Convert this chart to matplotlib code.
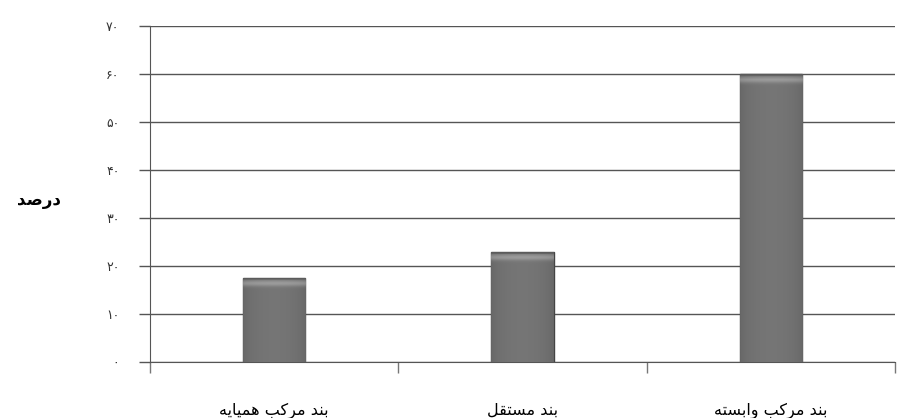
import numpy as np
import matplotlib
matplotlib.use('Agg')
import matplotlib.pyplot as plt

# داده‌ها
categories = ['بند مرکب همپایه', 'بند مستقل', 'بند مرکب وابسته']
values = [17.5, 23, 60]
yticks = [0, 10, 20, 30, 40, 50, 60, 70]
ylabel = 'درصد'

# matplotlib حروف فارسی را به هم نمی‌چسباند، پس شکل‌های نمایشی را دستی می‌سازیم
FORMS = {  # iso, fin, init, med
    'ا': (0xFE8D, 0xFE8E), 'د': (0xFEA9, 0xFEAA), 'ر': (0xFEAD, 0xFEAE),
    'و': (0xFEED, 0xFEEE),
    'ب': (0xFE8F, 0xFE90, 0xFE91, 0xFE92), 'پ': (0xFB56, 0xFB57, 0xFB58, 0xFB59),
    'ت': (0xFE95, 0xFE96, 0xFE97, 0xFE98), 'س': (0xFEB1, 0xFEB2, 0xFEB3, 0xFEB4),
    'ص': (0xFEB9, 0xFEBA, 0xFEBB, 0xFEBC), 'ق': (0xFED5, 0xFED6, 0xFED7, 0xFED8),
    'ک': (0xFB8E, 0xFB8F, 0xFB90, 0xFB91), 'ل': (0xFEDD, 0xFEDE, 0xFEDF, 0xFEE0),
    'م': (0xFEE1, 0xFEE2, 0xFEE3, 0xFEE4), 'ن': (0xFEE5, 0xFEE6, 0xFEE7, 0xFEE8),
    'ه': (0xFEE9, 0xFEEA, 0xFEEB, 0xFEEC), 'ی': (0xFBFC, 0xFBFD, 0xFBFE, 0xFBFF),
}


def shape(text):
    out = []
    for i, ch in enumerate(text):
        if ch not in FORMS:
            out.append(ch)
            continue
        prev = text[i - 1] if i > 0 else ''
        nxt = text[i + 1] if i + 1 < len(text) else ''
        jp = prev in FORMS and len(FORMS[prev]) == 4
        jn = len(FORMS[ch]) == 4 and nxt in FORMS
        f = FORMS[ch]
        if jp and jn:
            out.append(chr(f[3]))
        elif jp:
            out.append(chr(f[1]))
        elif jn:
            out.append(chr(f[2]))
        else:
            out.append(chr(f[0]))
    return ''.join(out)[::-1]


def fa_digits(n):
    return ''.join(chr(0x06F0 + int(d)) for d in str(n))


plt.rcParams['font.family'] = ['DejaVu Sans']

fig = plt.figure(figsize=(9.01, 4.18), dpi=100)
ax = fig.add_axes([0.1665, 0.134, 0.8268, 0.804])

x = np.arange(len(categories))
bars = ax.bar(x, values, width=0.25, color='#6a6a6a', edgecolor='#444444', linewidth=1, zorder=3)

# سایه‌زنی ستون‌ها (لبه‌های تیره، نوار روشن بالا)
u = np.linspace(0, 1, 60)
prof = 0.40 + 0.06 * np.sin(np.pi * u) ** 0.5
for b in bars:
    h = b.get_height()
    ny = 200
    img = np.tile(prof, (ny, 1))
    hpx = h * 4.8  # ارتفاع ستون بر حسب پیکسل
    rows = np.linspace(0, hpx, ny)  # از بالا
    top = np.exp(-((rows - 6) / 3.0) ** 2) * 0.15
    img = img + top[:, None]
    img[rows < 2.5, :] = 0.36
    rgb = np.dstack([img] * 3).clip(0, 1)
    im = ax.imshow(rgb, extent=[b.get_x(), b.get_x() + b.get_width(), 0, h],
                   aspect='auto', zorder=3.5, interpolation='bilinear')
    im.set_clip_path(b)

ax.set_xlim(-0.5, len(categories) - 0.5)
ax.set_ylim(0, 70)
ax.set_yticks(yticks)
ax.set_yticklabels([fa_digits(t) for t in yticks], fontsize=9, color='#333333')
ax.yaxis.grid(True, color='#555555', linewidth=1, zorder=0)
ax.tick_params(axis='y', length=8, width=1, color='#555555', pad=14)

# خطوط مرز دسته‌ها روی محور افقی
ax.set_xticks(np.arange(-0.5, len(categories), 1.0))
ax.set_xticklabels([])
ax.tick_params(axis='x', which='major', length=8, width=1, color='#777777', direction='out')
ax.set_xticks(x, minor=True)
ax.set_xticklabels([shape(c) for c in categories], minor=True, fontsize=11.5)
ax.tick_params(axis='x', which='minor', length=0, pad=29)

for s in ['top', 'right']:
    ax.spines[s].set_visible(False)
ax.spines['left'].set_color('#555555')
ax.spines['bottom'].set_color('#555555')

fig.text(39 / 901, 1 - 200 / 418, shape(ylabel), fontsize=12, fontweight='bold',
         ha='center', va='center')

fig.savefig('out.png', dpi=100)
